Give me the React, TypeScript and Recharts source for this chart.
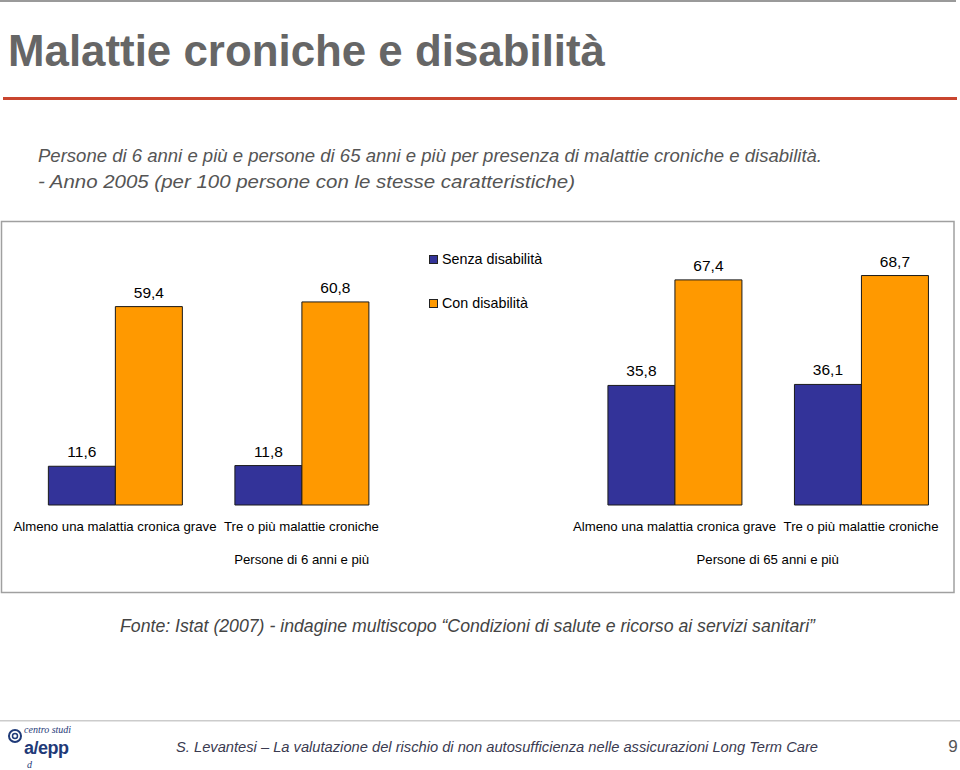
import React from "react";
import { BarChart, Bar, XAxis, YAxis, LabelList } from "recharts";

const categories = [
  "Almeno una malattia cronica grave",
  "Tre o più malattie croniche",
  "",
  "Almeno una malattia cronica grave",
  "Tre o più malattie croniche",
];
const senzaDisabilita: (number | null)[] = [11.6, 11.8, null, 35.8, 36.1];
const conDisabilita: (number | null)[] = [59.4, 60.8, null, 67.4, 68.7];
const seriesNames = ["Senza disabilità", "Con disabilità"];
const groupLabels = ["Persone di 6 anni e più", "Persone di 65 anni e più"];

const data = categories.map((c, i) => ({
  category: c,
  senza: senzaDisabilita[i],
  con: conDisabilita[i],
}));

const FONT = '"Liberation Sans", Arial, Helvetica, sans-serif';
const BLUE = "#333399";
const ORANGE = "#FF9900";
const seriesColors = [BLUE, ORANGE];

const fmt = (v: any) =>
  v === null || v === undefined ? "" : Number(v).toFixed(1).replace(".", ",");

const Tick = (props: any) => {
  const { x, y, payload } = props;
  return (
    <text x={x} y={y} dy={18} textAnchor="middle" fontSize={13.2} fill="#000" fontFamily={FONT}>
      {payload.value}
    </text>
  );
};

export default function App() {
  return (
    <div style={{ position: "absolute", left: 0, top: 0, width: 960, height: 770, background: "#fff", fontFamily: FONT }}>
      <svg width={960} height={770} style={{ position: "absolute", left: 0, top: 0 }}>
        <rect x={0} y={0} width={956} height={2} fill="#9a9a9a" />
        <text x={8} y={66} fontSize={44} fontWeight="bold" fill="#666666" fontFamily={FONT} textLength={597} lengthAdjust="spacingAndGlyphs">
          Malattie croniche e disabilità
        </text>
        <rect x={3} y={97} width={954} height={3} fill="#C9452F" />
        <text x={38} y={162} fontSize={19} fontStyle="italic" fill="#555555" fontFamily={FONT} textLength={784} lengthAdjust="spacingAndGlyphs">
          Persone di 6 anni e più e persone di 65 anni e più per presenza di malattie croniche e disabilità.
        </text>
        <text x={38} y={188} fontSize={19} fontStyle="italic" fill="#555555" fontFamily={FONT} textLength={537} lengthAdjust="spacingAndGlyphs">
          - Anno 2005 (per 100 persone con le stesse caratteristiche)
        </text>
        <rect x={1.5} y={221.5} width={952.5} height={371} fill="none" stroke="#a0a0a0" strokeWidth={1.5} />
        <text x={301.7} y={564} textAnchor="middle" fontSize={13.2} fill="#000" fontFamily={FONT}>
          {groupLabels[0]}
        </text>
        <text x={767.7} y={564} textAnchor="middle" fontSize={13.2} fill="#000" fontFamily={FONT}>
          {groupLabels[1]}
        </text>
        <text x={120} y={632} fontSize={17.5} fontStyle="italic" fill="#444444" fontFamily={FONT} textLength={695} lengthAdjust="spacingAndGlyphs">
          Fonte: Istat (2007) - indagine multiscopo “Condizioni di salute e ricorso ai servizi sanitari”
        </text>
        <rect x={0} y={720} width={960} height={1.5} fill="#cccccc" />
        <circle cx={15} cy={736} r={6} fill="none" stroke="#1f3a78" strokeWidth={2} />
        <circle cx={15} cy={736} r={2.5} fill="none" stroke="#1f3a78" strokeWidth={1.5} />
        <text x={24} y={733} fontSize={10} fontStyle="italic" fill="#1f3a78" fontFamily='"Liberation Serif", serif'>
          centro studi
        </text>
        <text x={24} y={754} fontSize={18} fontWeight="bold" fill="#1f3a78" fontFamily={FONT} letterSpacing={-0.5}>
          a/epp
        </text>
        <text x={27} y={768} fontSize={10} fontStyle="italic" fill="#1f3a78" fontFamily='"Liberation Serif", serif'>
          d
        </text>
        <text x={176} y={752} fontSize={15} fontStyle="italic" fill="#3a3a50" fontFamily={FONT} textLength={642} lengthAdjust="spacingAndGlyphs">
          S. Levantesi – La valutazione del rischio di non autosufficienza nelle assicurazioni Long Term Care
        </text>
        <text x={953} y={752} textAnchor="middle" fontSize={17} fill="#555555" fontFamily={FONT}>
          9
        </text>
      </svg>
      <div style={{ position: "absolute", left: 0, top: 0 }}>
        <BarChart
          width={960}
          height={770}
          data={data}
          margin={{ top: 271.2, right: 5.7, left: 21.7, bottom: 235 }}
          barCategoryGap="14.3%"
          barGap={0}
        >
          <XAxis
            dataKey="category"
            axisLine={false}
            tickLine={false}
            height={30}
            interval={0}
            tick={<Tick />}
          />
          <YAxis hide domain={[0, 70]} />
          <Bar dataKey="senza" name={seriesNames[0]} fill={BLUE} stroke="#1a1a1a" strokeWidth={1} isAnimationActive={false}>
            <LabelList dataKey="senza" position="top" offset={9} formatter={fmt} fontSize={15.5} fill="#000" fontFamily={FONT} />
          </Bar>
          <Bar dataKey="con" name={seriesNames[1]} fill={ORANGE} stroke="#1a1a1a" strokeWidth={1} isAnimationActive={false}>
            <LabelList dataKey="con" position="top" offset={9} formatter={fmt} fontSize={15.5} fill="#000" fontFamily={FONT} />
          </Bar>
        </BarChart>
      </div>
      <div style={{ position: "absolute", left: 429, top: 248, fontFamily: FONT, fontSize: 14.3, color: "#000" }}>
        {seriesNames.map((n, i) => (
          <div key={n} style={{ display: "flex", alignItems: "center", height: 22, marginBottom: i === 0 ? 22 : 0 }}>
            <span
              style={{
                display: "inline-block",
                width: 7,
                height: 7,
                background: seriesColors[i],
                border: "1px solid #222",
                marginRight: 4,
              }}
            />
            <span>{n}</span>
          </div>
        ))}
      </div>
    </div>
  );
}
